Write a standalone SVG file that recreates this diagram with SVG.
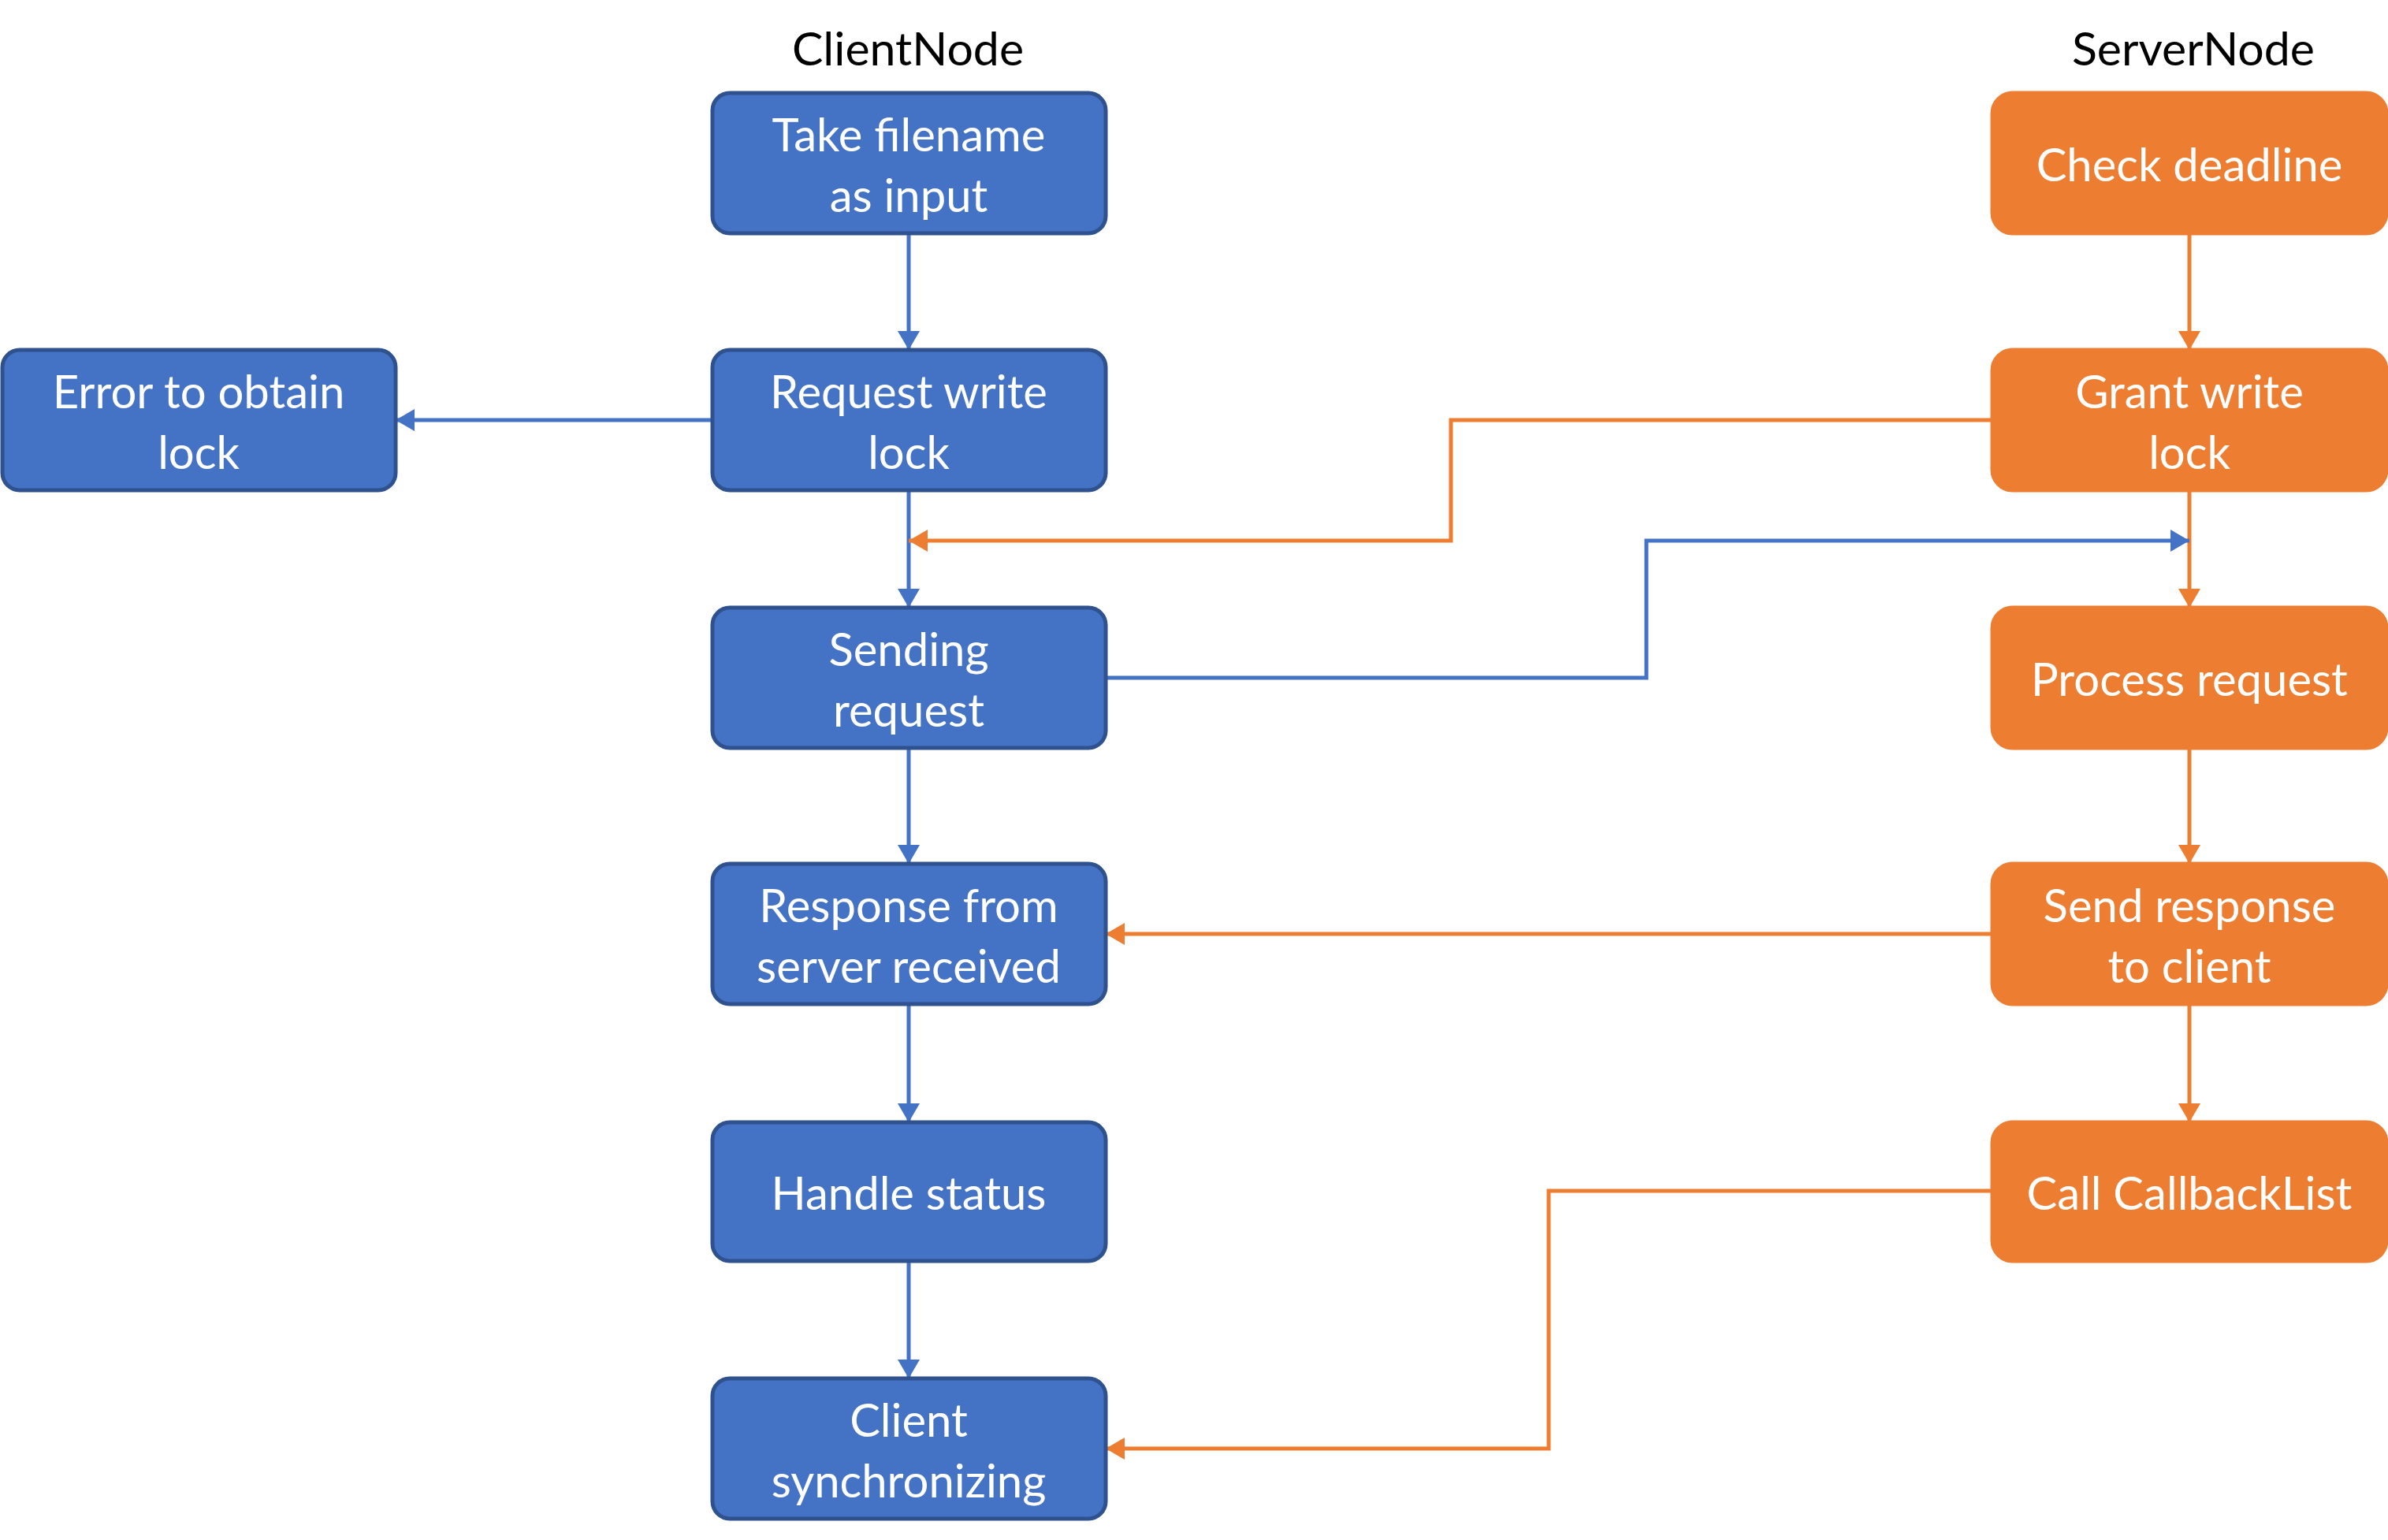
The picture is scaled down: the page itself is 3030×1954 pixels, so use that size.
<svg xmlns="http://www.w3.org/2000/svg" width="3030" height="1954" viewBox="0 0 3030 1954">
<style>
.b{fill:#4472C4;stroke:#2F528F;stroke-width:5}
.o{fill:#ED7D31;stroke:#ED7D31;stroke-width:5}
.t{font-family:Lato,"Open Sans",sans-serif;font-size:58px;fill:#fff;text-anchor:middle;dominant-baseline:central}
.h{font-family:Lato,"Open Sans",sans-serif;font-size:59px;fill:#000;text-anchor:middle;dominant-baseline:central}
.cb{fill:none;stroke:#4472C4;stroke-width:5}
.co{fill:none;stroke:#ED7D31;stroke-width:5}
</style>
<defs>
<marker id="ab" markerUnits="userSpaceOnUse" markerWidth="26" markerHeight="28" refX="24" refY="14" orient="auto" viewBox="0 0 26 28"><path d="M0,0 L24,14 L0,28 Z" fill="#4472C4"/></marker>
<marker id="ao" markerUnits="userSpaceOnUse" markerWidth="26" markerHeight="28" refX="24" refY="14" orient="auto" viewBox="0 0 26 28"><path d="M0,0 L24,14 L0,28 Z" fill="#ED7D31"/></marker>
</defs>
<rect width="3030" height="1954" fill="#fff"/>
<text class="h" x="1152" y="60">ClientNode</text>
<text class="h" x="2783" y="60">ServerNode</text>
<g id="connectors">
<path class="cb" d="M1153,296 V444" marker-end="url(#ab)"/>
<path class="cb" d="M904,533 H502" marker-end="url(#ab)"/>
<path class="cb" d="M1153,622 V771" marker-end="url(#ab)"/>
<path class="cb" d="M1153,949 V1096" marker-end="url(#ab)"/>
<path class="cb" d="M1153,1273 V1424" marker-end="url(#ab)"/>
<path class="cb" d="M1153,1600 V1749" marker-end="url(#ab)"/>
<path class="co" d="M2778,296 V444" marker-end="url(#ao)"/>
<path class="co" d="M2778,622 V771" marker-end="url(#ao)"/>
<path class="co" d="M2778,949 V1096" marker-end="url(#ao)"/>
<path class="co" d="M2778,1273 V1424" marker-end="url(#ao)"/>
<path class="co" d="M2528,533 H1841 V686 H1153" marker-end="url(#ao)"/>
<path class="cb" d="M1403,860 H2089 V686 H2778" marker-end="url(#ab)"/>
<path class="co" d="M2528,1185 H1403" marker-end="url(#ao)"/>
<path class="co" d="M2528,1511 H1965 V1838 H1403" marker-end="url(#ao)"/>
</g>
<g id="take"><rect class="b" x="904" y="118" width="499" height="178" rx="22"/><text class="t" x="1153" y="169">Take filename</text><text class="t" x="1153" y="246">as input</text></g>
<g id="request"><rect class="b" x="904" y="444" width="499" height="178" rx="22"/><text class="t" x="1153" y="495">Request write</text><text class="t" x="1153" y="572">lock</text></g>
<g id="error"><rect class="b" x="3" y="444" width="499" height="178" rx="22"/><text class="t" x="252" y="495">Error to obtain</text><text class="t" x="252" y="572">lock</text></g>
<g id="sending"><rect class="b" x="904" y="771" width="499" height="178" rx="22"/><text class="t" x="1153" y="822">Sending</text><text class="t" x="1153" y="899">request</text></g>
<g id="response"><rect class="b" x="904" y="1096" width="499" height="178" rx="22"/><text class="t" x="1153" y="1147">Response from</text><text class="t" x="1153" y="1224">server received</text></g>
<g id="handle"><rect class="b" x="904" y="1424" width="499" height="176" rx="22"/><text class="t" x="1153" y="1512">Handle status</text></g>
<g id="sync"><rect class="b" x="904" y="1749" width="499" height="178" rx="22"/><text class="t" x="1153" y="1800">Client</text><text class="t" x="1153" y="1877">synchronizing</text></g>
<g id="check"><rect class="o" x="2528" y="118" width="500" height="178" rx="26"/><text class="t" x="2778" y="207">Check deadline</text></g>
<g id="grant"><rect class="o" x="2528" y="444" width="500" height="178" rx="26"/><text class="t" x="2778" y="495">Grant write</text><text class="t" x="2778" y="572">lock</text></g>
<g id="process"><rect class="o" x="2528" y="771" width="500" height="178" rx="26"/><text class="t" x="2778" y="860">Process request</text></g>
<g id="sendresp"><rect class="o" x="2528" y="1096" width="500" height="178" rx="26"/><text class="t" x="2778" y="1147">Send response</text><text class="t" x="2778" y="1224">to client</text></g>
<g id="callback"><rect class="o" x="2528" y="1424" width="500" height="176" rx="26"/><text class="t" x="2778" y="1512">Call CallbackList</text></g>
</svg>
